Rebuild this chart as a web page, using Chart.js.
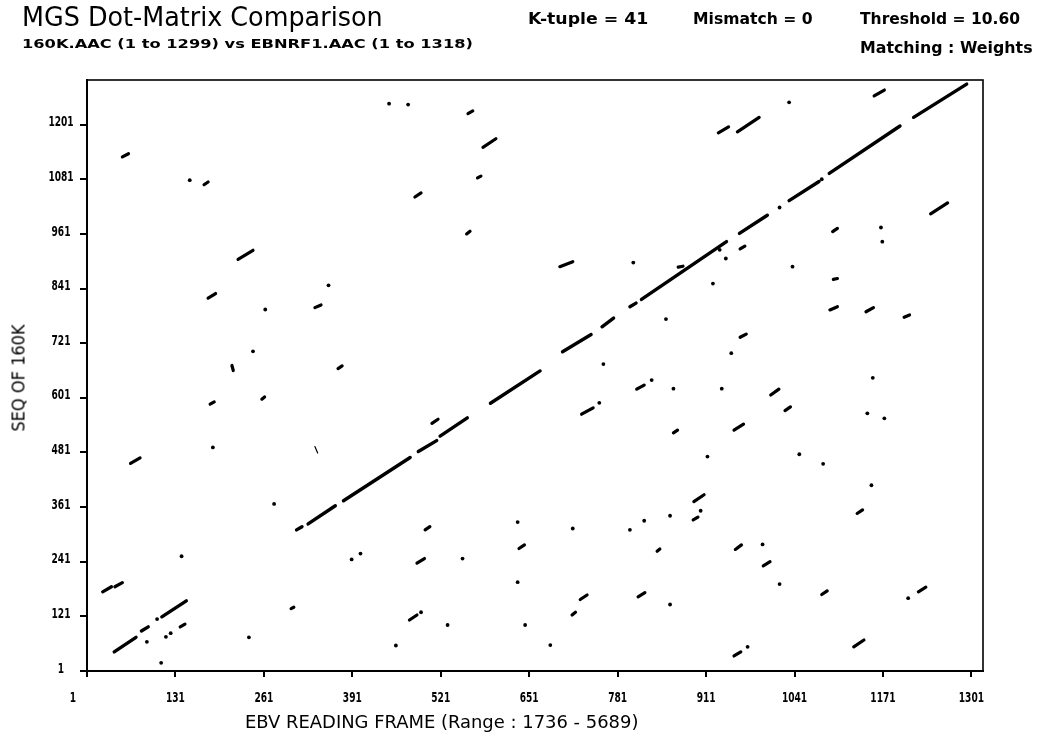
<!DOCTYPE html>
<html lang="en">
<head>
  <meta charset="UTF-8"/>
  <title>MGS Dot-Matrix Comparison</title>
  <style>
    body { margin: 0; background: #fff; overflow: hidden; }
    #wrap { position: relative; width: 1056px; height: 736px; overflow: hidden; }
    #chart { position: absolute; left: 0; top: 0; }
    .txt { position: absolute; white-space: nowrap; color: #000; line-height: 1; transform-origin: 0 0; }
    .title { font-family: "DejaVu Sans", sans-serif; font-size: 26px; }
    .info { font-family: "DejaVu Sans", sans-serif; font-weight: bold; font-size: 16px; }
    .sub { font-family: "DejaVu Sans", sans-serif; font-weight: bold; font-size: 13px; }
    .axis { font-family: "DejaVu Sans Condensed", "DejaVu Sans", sans-serif; font-size: 17px; }
  </style>
</head>
<body>
  <div id="wrap">
    <canvas id="chart" width="1056" height="736"></canvas>
    <div class="txt title" data-w="361" style="left:22px; top:4px;">MGS Dot-Matrix Comparison</div>
    <div class="txt sub" data-w="451" style="left:22px; top:37px;">160K.AAC (1 to 1299) vs EBNRF1.AAC (1 to 1318)</div>
    <div class="txt info" data-w="120" style="left:528px; top:11px;">K-tuple = 41</div>
    <div class="txt info" data-w="120" style="left:693px; top:11px;">Mismatch = 0</div>
    <div class="txt info" data-w="160" style="left:860px; top:11px;">Threshold = 10.60</div>
    <div class="txt info" data-w="173" style="left:860px; top:40px;">Matching : Weights</div>
    <div class="txt axis" data-w="393" style="left:245px; top:714px;">EBV READING FRAME (Range : 1736 - 5689)</div>
    <div class="txt axis" id="ytitle" data-w="107" style="left:19px; top:378px;">SEQ OF 160K</div>
  </div>

  <script src="https://cdn.jsdelivr.net/npm/chart.js@4"></script>
  <script>
  // tick positions
  const xTicks = [1, 131, 261, 391, 521, 651, 781, 911, 1041, 1171, 1301];
  const yTicks = [1, 121, 241, 361, 481, 601, 721, 841, 961, 1081, 1201];

  // matches as [x1, y1, x2, y2]  (x = EBV position, y = 160K position)
  const mainDiagonal = [
    [309,311,317,318],[326,324,366,364],[378,375,476,470],[488,483,515,507],
    [520,517,560,557],[594,589,667,660],[700,702,742,740],[758,757,775,776],
    [799,801,808,809],[816,817,941,944],[960,962,1001,1002],[1033,1034,1077,1076],
    [1092,1094,1196,1198],[1216,1217,1294,1290]
  ];
  const lowerDiagonal = [[41,43,73,75],[81,89,91,98],[111,120,147,155]];
  const shortMatches = [
    [53,1130,62,1137],[173,1069,179,1075],[561,1225,568,1231],[583,1151,602,1170],
    [575,1084,580,1088],[483,1042,492,1051],[559,961,564,967],[223,905,245,925],
    [179,820,190,830],[336,799,345,805],[214,672,216,661],[370,665,376,671],
    [182,587,188,592],[258,598,262,603],[65,457,79,469],[508,545,517,554],
    [498,311,505,318],[486,238,497,248],[636,270,644,278],[475,113,486,124],
    [24,175,37,186],[42,186,53,195],[138,98,145,104],[301,138,305,141],
    [1158,1264,1173,1277],[929,1183,944,1196],[957,1185,989,1217],[1241,1005,1266,1029],
    [1097,966,1104,973],[961,928,968,934],[696,889,715,900],[870,888,877,890],
    [1098,861,1104,863],[1093,794,1104,801],[1146,790,1157,799],[1202,778,1210,783],
    [961,734,970,741],[809,620,820,629],[1006,607,1018,620],[1027,573,1035,581],
    [728,565,745,579],[863,524,869,530],[952,530,966,543],[893,373,908,388],
    [892,333,899,339],[1133,347,1141,355],[839,264,843,269],[954,268,963,278],
    [995,232,1005,241],[1081,169,1089,177],[726,158,736,168],[714,124,719,130],
    [811,164,821,173],[952,34,962,43],[1128,54,1143,69],[1223,175,1234,185]
  ];
  const faintMatches = [[336,494,340,480]];
  // single hits [x, y]
  const singleHits = [
    [1019,1019],[1081,1081],[104,115],
    [152,1079],[445,1247],[473,1245],[356,848],[263,795],[245,703],[186,492],
    [276,368],[390,246],[403,259],[553,248],[634,328],[634,196],[645,102],[682,58],
    [492,130],[531,102],[455,57],[239,75],[140,253],[89,65],[117,76],[124,84],[110,19],
    [1033,1250],[1168,975],[1170,944],[940,907],[931,926],[804,898],[1038,889],
    [921,852],[852,774],[948,699],[760,675],[831,640],[863,621],[934,621],[1156,645],
    [754,590],[1148,567],[1173,556],[913,472],[1048,477],[1083,456],[1154,409],
    [903,353],[858,342],[820,331],[799,311],[715,314],[994,279],[1019,192],[858,147],
    [972,54],[1208,161]
  ];

  function toPath(segs) {
    const pts = [];
    segs.forEach(s => {
      pts.push({x: s[0], y: s[1]}, {x: s[2], y: s[3]}, {x: s[2], y: null});
    });
    return pts;
  }
  function lineSet(segs, w) {
    return {
      data: toPath(segs), showLine: true, spanGaps: false,
      borderColor: '#000', borderWidth: w, borderCapStyle: 'round', borderJoinStyle: 'round',
      pointRadius: 0, pointHoverRadius: 0
    };
  }

  // narrow plotter-style tick numbers, placed through the chart scales
  function narrowText(c, t, x, y) {
    c.save();
    c.translate(x, y);
    c.scale(0.72, 1);
    c.fillText(t, 0, 0);
    c.restore();
  }
  const tickText = {
    id: 'tickText',
    afterDraw(chart) {
      const c = chart.ctx, sx = chart.scales.x, sy = chart.scales.y;
      c.save();
      c.fillStyle = '#000';
      c.font = 'bold 14px "DejaVu Sans Condensed", "DejaVu Sans", sans-serif';
      c.textAlign = 'center';
      c.textBaseline = 'middle';
      xTicks.forEach((v, i) => {
        narrowText(c, String(v), sx.getPixelForValue(v) - (i === 0 ? 14 : 0), sx.bottom - 38);
      });
      yTicks.forEach(v => {
        narrowText(c, String(v), sy.left + 61, sy.getPixelForValue(v) - 2);
      });
      c.restore();
    }
  };

  // box round the plot
  const frame = {
    id: 'frame',
    afterDraw(chart) {
      const a = chart.chartArea, c = chart.ctx;
      c.save();
      c.strokeStyle = '#000';
      c.lineWidth = 1.6;
      c.strokeRect(a.left, a.top, a.right - a.left, a.bottom - a.top);
      c.restore();
    }
  };

  new Chart(document.getElementById('chart'), {
    type: 'scatter',
    data: {
      datasets: [
        lineSet(mainDiagonal, 3.4),
        lineSet(lowerDiagonal, 3.4),
        lineSet(shortMatches, 3.2),
        lineSet(faintMatches, 1.2),
        {
          data: singleHits.map(p => ({x: p[0], y: p[1]})),
          pointRadius: 1.9, pointHoverRadius: 1.9,
          backgroundColor: '#000', borderWidth: 0
        }
      ]
    },
    options: {
      responsive: false,
      animation: false,
      events: [],
      layout: { padding: { top: 80, right: 73, left: 0, bottom: 0 } },
      plugins: { legend: { display: false }, tooltip: { enabled: false } },
      scales: {
        x: {
          type: 'linear', min: 1, max: 1318,
          afterBuildTicks: s => { s.ticks = xTicks.map(v => ({value: v})); },
          afterFit: s => { s.height = 65; },
          ticks: { display: false },
          grid: { drawOnChartArea: false, drawTicks: true, tickLength: 6, color: '#000', lineWidth: 2 },
          border: { display: true, color: '#000', width: 2 }
        },
        y: {
          type: 'linear', min: 1, max: 1299,
          afterBuildTicks: s => { s.ticks = yTicks.map(v => ({value: v})); },
          afterFit: s => { s.width = 87; },
          ticks: { display: false },
          grid: { drawOnChartArea: false, drawTicks: true, tickLength: 7, color: '#000', lineWidth: 2 },
          border: { display: true, color: '#000', width: 2 }
        }
      }
    },
    plugins: [frame, tickText]
  });

  // stretch header and axis texts to the widths in the picture
  document.querySelectorAll('.txt').forEach(el => {
    const s = (+el.dataset.w) / el.scrollWidth;
    if (el.id === 'ytitle') {
      el.style.transformOrigin = '50% 50%';
      el.style.transform = 'translate(-50%,-50%) rotate(-90deg) scaleX(' + s + ')';
    } else {
      el.style.transform = 'scaleX(' + s + ')';
    }
  });
  </script>
</body>
</html>
